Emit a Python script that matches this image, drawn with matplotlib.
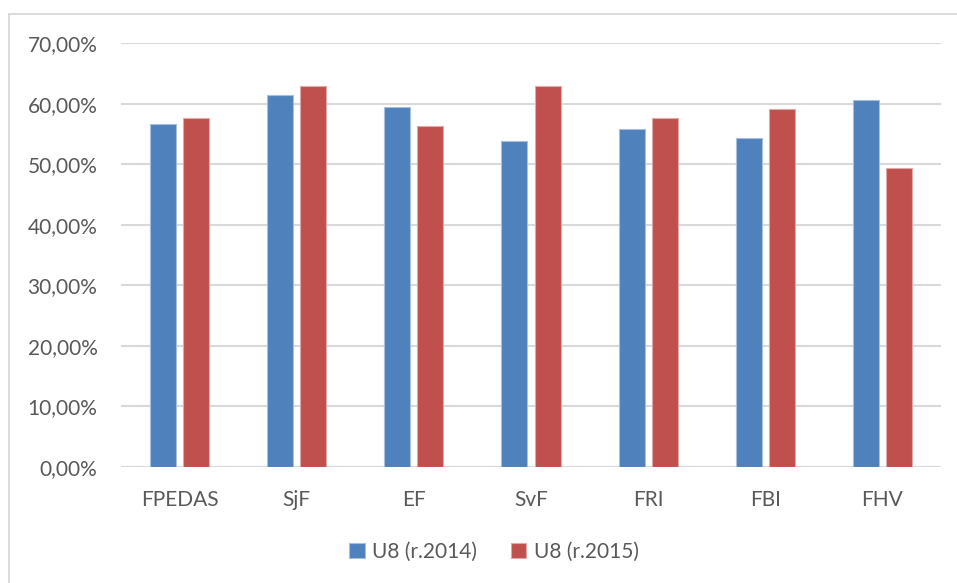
import matplotlib.pyplot as plt
import matplotlib.patches as patches
import numpy as np
from matplotlib.ticker import FuncFormatter

# faculty shares of U8 answers, two years
categories = ['FPEDAS', 'SjF', 'EF', 'SvF', 'FRI', 'FBI', 'FHV']
u8_2014 = [0.567, 0.614, 0.595, 0.539, 0.559, 0.543, 0.606]
u8_2015 = [0.576, 0.630, 0.563, 0.629, 0.576, 0.591, 0.494]
series_labels = ['U8 (r.2014)', 'U8 (r.2015)']

BLUE = '#4F81BD'
RED = '#C0504D'
GRID = '#D9D9D9'
TEXT = '#595959'

plt.rcParams['font.family'] = ['Lato', 'DejaVu Sans']

W, H = 957, 583
fig = plt.figure(figsize=(W / 100, H / 100), dpi=100)

# outer chart frame
frame = patches.Rectangle((9 / W, -0.1), 1.2, 1 - 14 / H + 0.1,
                          transform=fig.transFigure, fill=False,
                          edgecolor=GRID, linewidth=1.3)
fig.patches.append(frame)

left, right = 121 / W, 941 / W
bottom, top = 1 - 466.7 / H, 1 - 43.3 / H
ax = fig.add_axes([left, bottom, right - left, top - bottom])

x = np.arange(len(categories))
width = 0.222
offset = 0.141
ax.bar(x - offset, u8_2014, width, color=BLUE, edgecolor='#A7BFDE',
       linewidth=0.8, label=series_labels[0], zorder=3)
ax.bar(x + offset, u8_2015, width, color=RED, edgecolor='#E0A8A6',
       linewidth=0.8, label=series_labels[1], zorder=3)

ax.set_xlim(-0.5, len(categories) - 0.5)
ax.set_ylim(0, 0.70)
ax.set_yticks(np.arange(0, 0.71, 0.10))
ax.yaxis.set_major_formatter(FuncFormatter(lambda v, p: f'{v * 100:.2f}%'.replace('.', ',')))
ax.set_xticks(x)
ax.set_xticklabels(categories)

ax.grid(axis='y', color=GRID, linewidth=1.5, zorder=0)
for side in ['top', 'right', 'left', 'bottom']:
    ax.spines[side].set_visible(False)
ax.axhline(0, color=GRID, linewidth=1.5, zorder=2)

ax.tick_params(axis='y', length=0, pad=17, labelsize=15, labelcolor=TEXT)
ax.tick_params(axis='x', length=0, pad=17, labelsize=15, labelcolor=TEXT)

handles, labels = ax.get_legend_handles_labels()
fig.legend(handles, labels, loc='center', bbox_to_anchor=(494 / W, 1 - 551.7 / H),
           ncol=2, frameon=False, fontsize=15, labelcolor=TEXT,
           handlelength=0.75, handleheight=0.75, handletextpad=0.35,
           columnspacing=1.6)

fig.savefig('out.png', dpi=100)
